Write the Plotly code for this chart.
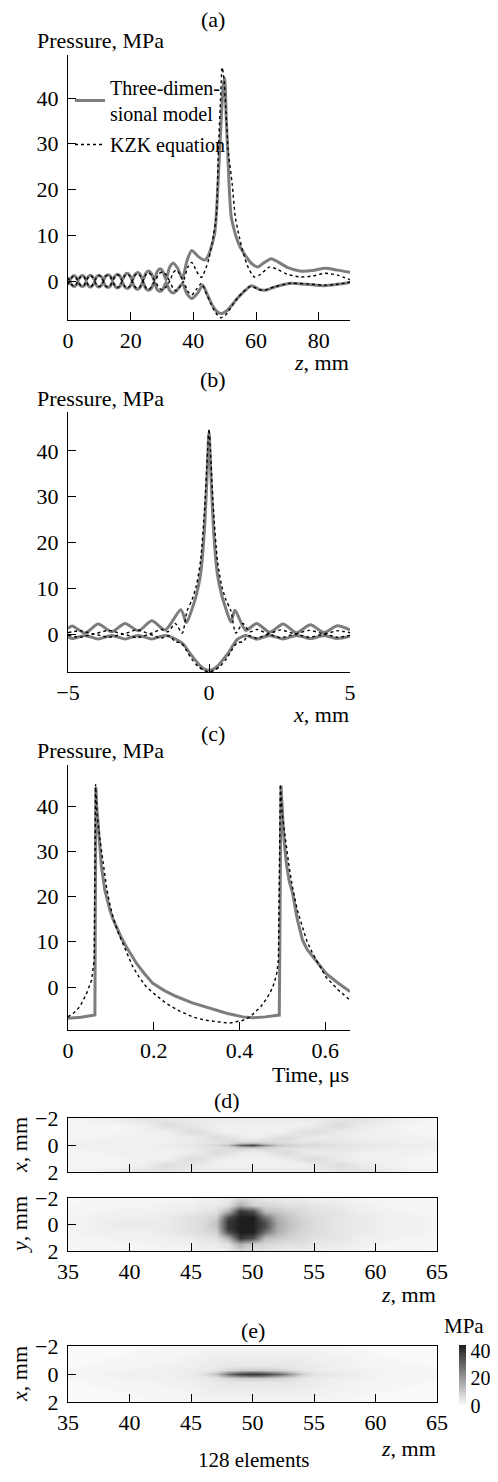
import plotly.graph_objects as go

# page body adds an 8px margin, so the figure is drawn 8px smaller and positions are shifted
PAD = 8
W, H = 498 - 2 * PAD, 1482 - 2 * PAD
FONT = "Liberation Serif"
GRAY = "#7d7d7d"

# ---- (a) axial distribution: (z mm, pressure MPa)
a_3d_pos = [(0, 0.8), (0.6, 0.2), (1.25, 0.9), (1.9, 1.2), (2.55, 0.9), (3.2, 0.2), (3.85, 0.9), (4.5, 1.2),
            (5.15, 1.0), (5.8, 0.2), (6.5, 1.0), (7.15, 1.3), (7.8, 1.0), (8.5, 0.2), (9.2, 1.0), (9.9, 1.3),
            (10.6, 1.0), (11.3, 0.2), (12.0, 1.1), (12.75, 1.4), (13.5, 1.1), (14.2, 0.2), (15.0, 1.1),
            (15.75, 1.5), (16.5, 1.2), (17.3, 0.2), (18.1, 1.3), (18.9, 1.7), (19.7, 1.3), (20.5, 0.2),
            (21.3, 1.4), (22.2, 1.9), (23.0, 1.5), (23.9, 0.2), (24.8, 1.7), (25.7, 2.2), (26.6, 1.7),
            (27.5, 0.2), (28.4, 2.0), (29.4, 2.7), (30.3, 2.1), (31.3, 0.3), (32.4, 3.0), (33.6, 3.9),
            (35.0, 2.8), (36.5, 0.6), (38.0, 4.5), (39.5, 6.7), (41.5, 5.4), (43.6, 4.6), (44.5, 5.2),
            (45.4, 6.7), (46.8, 10.4), (47.6, 17.6), (48.4, 28.5), (49.1, 38), (49.6, 43), (50.0, 44.4),
            (50.5, 35.7), (51.0, 28), (51.4, 21.2), (52.1, 14), (53.0, 11.3), (53.7, 9.6), (55.0, 7.4),
            (56.9, 5.3), (58.5, 3.9), (60.6, 3.1), (62.5, 4.0), (64.9, 4.9), (67, 4.2), (70, 3.0), (74, 2.2),
            (78, 2.3), (82, 2.8), (86, 2.4), (90, 1.9)]
a_3d_neg = [(0, -0.8), (0.6, -0.2), (1.25, -0.9), (1.9, -1.2), (2.55, -0.9), (3.2, -0.2), (3.85, -0.9),
            (4.5, -1.2), (5.15, -1.0), (5.8, -0.2), (6.5, -1.0), (7.15, -1.3), (7.8, -1.0), (8.5, -0.2),
            (9.2, -1.0), (9.9, -1.3), (10.6, -1.0), (11.3, -0.2), (12.0, -1.1), (12.75, -1.4), (13.5, -1.1),
            (14.2, -0.2), (15.0, -1.1), (15.75, -1.5), (16.5, -1.2), (17.3, -0.2), (18.1, -1.3), (18.9, -1.6),
            (19.7, -1.3), (20.5, -0.2), (21.3, -1.4), (22.2, -1.8), (23.0, -1.4), (23.9, -0.2), (24.8, -1.6),
            (25.7, -2.0), (26.6, -1.6), (27.5, -0.2), (28.4, -1.8), (29.4, -2.3), (30.3, -1.8), (31.3, -0.3),
            (32.4, -2.0), (33.6, -2.6), (35.0, -1.8), (36.5, -0.6), (38.0, -2.8), (39.5, -3.8), (41.5, -2.5),
            (43.0, -0.9), (44.5, -3.0), (46.0, -5.2), (47.5, -6.6), (48.9, -7.1), (50.5, -6.6), (52.0, -5.5),
            (54.0, -3.8), (56.0, -2.4), (58.6, -1.0), (61.0, -1.8), (63.0, -2.0), (66.0, -1.3), (70.7, -0.5),
            (76, -0.7), (82, -1.0), (86, -0.7), (90, -0.3)]
a_kzk_pos = [(0, 0.7), (0.6, 0.1), (1.25, 0.8), (1.9, 1.1), (2.55, 0.8), (3.2, 0.1), (3.85, 0.8), (4.5, 1.1),
             (5.15, 0.9), (5.8, 0.1), (6.5, 0.9), (7.15, 1.2), (7.8, 0.9), (8.5, 0.1), (9.2, 0.9), (9.9, 1.2),
             (10.6, 0.9), (11.3, 0.1), (12.0, 1.0), (12.75, 1.3), (13.5, 1.0), (14.2, 0.1), (15.0, 1.0),
             (15.75, 1.4), (16.5, 1.1), (17.3, 0.1), (18.1, 1.1), (18.9, 1.5), (19.7, 1.1), (20.5, 0.1),
             (21.3, 1.2), (22.2, 1.6), (23.0, 1.2), (23.9, 0.1), (24.8, 1.4), (25.7, 1.8), (26.6, 1.3),
             (27.8, 0.1), (29.0, 1.6), (30.2, 2.0), (31.3, 1.4), (32.5, 0.1), (33.5, 1.8), (34.6, 2.4),
             (35.6, 1.6), (36.8, 0.1), (38.2, 3.0), (39.5, 4.1), (41.0, 2.2), (42.6, 0.8), (44.0, 2.8),
             (45.0, 5.0), (46.0, 8.4), (47.3, 14), (48.0, 28.5), (48.7, 40), (49.2, 46.7), (49.8, 44),
             (50.4, 37), (51.2, 28), (52.4, 21.2), (53.4, 14), (54.7, 9.6), (56.0, 6.0), (57.5, 3.0),
             (59.5, 0.9), (61.5, 1.5), (64.4, 3.1), (67, 2.5), (70, 1.5), (74, 0.9), (78, 1.1), (82, 1.7),
             (86, 1.3), (90, 0.3)]
a_kzk_neg = [(0, -0.7), (0.6, -0.1), (1.25, -0.8), (1.9, -1.1), (2.55, -0.8), (3.2, -0.1), (3.85, -0.8),
             (4.5, -1.1), (5.15, -0.9), (5.8, -0.1), (6.5, -0.9), (7.15, -1.2), (7.8, -0.9), (8.5, -0.1),
             (9.2, -0.9), (9.9, -1.2), (10.6, -0.9), (11.3, -0.1), (12.0, -1.0), (12.75, -1.3), (13.5, -1.0),
             (14.2, -0.1), (15.0, -1.0), (15.75, -1.4), (16.5, -1.1), (17.3, -0.1), (18.1, -1.1), (18.9, -1.5),
             (19.7, -1.1), (20.5, -0.1), (21.3, -1.2), (22.2, -1.6), (23.0, -1.2), (23.9, -0.1), (24.8, -1.4),
             (25.7, -1.8), (26.6, -1.3), (27.8, -0.1), (29.0, -1.5), (30.2, -1.9), (31.3, -1.3), (32.5, -0.1),
             (33.5, -1.6), (34.6, -2.1), (35.6, -1.4), (36.8, -0.1), (38.2, -2.2), (39.5, -3.0), (41.0, -1.8),
             (42.6, -0.5), (44.0, -2.5), (45.5, -4.8), (47.0, -6.8), (48.7, -8.0), (50.3, -7.4), (52.0, -5.8),
             (54.0, -3.8), (56.0, -2.3), (58.0, -1.2), (59.5, -1.4), (61.0, -1.9), (63.0, -1.9), (66.0, -1.2),
             (70.7, -0.5), (76, -0.6), (82, -0.9), (86, -0.7), (90, -0.2)]

# ---- (b) transverse distribution at focus: (x mm, pressure MPa)
b_3d_pos = [(-5.0, 1.2), (-4.85, 1.75), (-4.4, 0.2), (-3.93, 2.2), (-3.45, 0.5), (-2.98, 2.3), (-2.5, 0.7),
            (-2.03, 2.9), (-1.55, 0.9), (-1.0, 5.3), (-0.8, 2.5), (-0.6, 5.5), (-0.45, 8.5), (-0.3, 13),
            (-0.17, 22), (-0.08, 33), (0, 43.9), (0.08, 33), (0.17, 22), (0.3, 13), (0.45, 8.5), (0.6, 5.5),
            (0.78, 2.6), (0.92, 5.2), (1.3, 0.8), (1.69, 2.3), (2.15, 0.4), (2.63, 2.2), (3.1, 0.3),
            (3.6, 2.0), (4.08, 0.3), (4.55, 1.8), (5.0, 0.9)]
b_3d_neg = [(-5.0, -0.6), (-4.85, -1.0), (-4.4, -0.3), (-3.93, -1.1), (-3.45, -0.3), (-2.98, -1.1),
            (-2.5, -0.3), (-2.03, -1.1), (-1.55, -0.3), (-1.15, -1.2), (-0.9, -2.3), (-0.7, -4.0),
            (-0.5, -5.6), (-0.3, -7.0), (-0.12, -7.8), (0, -7.9), (0.12, -7.8), (0.3, -7.0), (0.5, -5.6),
            (0.7, -4.0), (0.85, -2.5), (1.0, -1.2), (1.3, -0.3), (1.69, -1.1), (2.15, -0.3), (2.63, -1.1),
            (3.1, -0.3), (3.6, -1.0), (4.08, -0.3), (4.55, -1.0), (5.0, -0.5)]
b_kzk_pos = [(-5.0, 0.3), (-4.55, 0.7), (-4.1, 0.05), (-3.55, 0.8), (-3.05, 0.05), (-2.55, 0.9),
             (-2.1, 0.1), (-1.7, 1.0), (-1.45, 0.5), (-1.2, 2.3), (-0.95, 0.2), (-0.78, 5.0), (-0.6, 7.5),
             (-0.45, 10.5), (-0.3, 16), (-0.15, 28), (-0.05, 40), (0, 44.8), (0.05, 40), (0.15, 28),
             (0.3, 16), (0.45, 10.5), (0.6, 7.5), (0.78, 5.0), (0.95, 0.2), (1.2, 2.3), (1.45, 0.5),
             (1.7, 1.0), (2.1, 0.1), (2.55, 0.9), (3.05, 0.05), (3.55, 0.8), (4.1, 0.05), (4.55, 0.7),
             (5.0, 0.3)]
b_kzk_neg = [(-5.0, -0.3), (-4.55, -0.7), (-4.1, -0.05), (-3.55, -0.7), (-3.05, -0.05), (-2.55, -0.8),
             (-2.1, -0.1), (-1.7, -0.9), (-1.4, -0.4), (-1.2, -1.7), (-1.0, -1.9), (-0.8, -3.6),
             (-0.6, -5.6), (-0.4, -7.0), (-0.2, -7.9), (0, -8.3), (0.2, -7.9), (0.4, -7.0), (0.6, -5.6),
             (0.8, -3.6), (1.0, -1.9), (1.2, -1.7), (1.4, -0.4), (1.7, -0.9), (2.1, -0.1), (2.55, -0.8),
             (3.05, -0.05), (3.55, -0.7), (4.1, -0.05), (4.55, -0.7), (5.0, -0.3)]

# ---- (c) waveform at focus: (time us, pressure MPa)
c_3d = [(0, -6.9), (0.03, -6.7), (0.0628, -6.2), (0.065, 44.2), (0.067, 40), (0.0705, 35.4), (0.074, 30.5),
        (0.078, 26.6), (0.086, 21.4), (0.0977, 17.0), (0.105, 15.0), (0.113, 13.3), (0.124, 11.0),
        (0.136, 8.9), (0.148, 7.0), (0.16, 5.2), (0.178, 3.0), (0.198, 0.8), (0.225, -0.8), (0.253, -2.1),
        (0.29, -3.5), (0.33, -4.7), (0.37, -5.8), (0.408, -6.6), (0.431, -6.8), (0.46, -6.6), (0.493, -6.2),
        (0.497, 44.5), (0.499, 40), (0.5025, 35), (0.506, 30.5), (0.51, 27), (0.516, 23.5), (0.524, 20.7),
        (0.535, 15), (0.547, 10.4), (0.558, 8.3), (0.571, 6.7), (0.586, 4.7), (0.602, 3.0), (0.63, 0.9),
        (0.658, -1.0)]
c_kzk = [(0, -6.6), (0.014, -5.7), (0.028, -4.3), (0.0434, -1.4), (0.055, 1.5), (0.0612, 6.0), (0.0643, 44.8),
         (0.068, 38), (0.074, 33), (0.082, 27), (0.09, 22), (0.097, 18.5), (0.105, 15.5), (0.116, 12.3),
         (0.128, 9.6), (0.14, 6.9), (0.151, 4.5), (0.166, 2.2), (0.182, 0.1), (0.205, -1.8), (0.229, -3.6),
         (0.26, -5.3), (0.291, -6.6), (0.318, -7.3), (0.345, -7.7), (0.376, -8.0), (0.407, -7.4),
         (0.425, -6.6), (0.438, -5.4), (0.45, -4.3), (0.461, -2.9), (0.472, -1.2), (0.481, 0.8),
         (0.487, 3.0), (0.491, 6.0), (0.4955, 44.8), (0.5, 38), (0.5085, 31.7), (0.516, 26.5), (0.524, 22),
         (0.535, 17), (0.547, 13.3), (0.558, 10), (0.571, 7.4), (0.586, 4.8), (0.602, 2.2), (0.63, -0.6),
         (0.658, -2.9)]

# ---- (d), (e) peak pressure maps, MPa; rows are |x| (or |y|) offsets, mirrored about the axis
map_z = [35, 37, 39, 41, 43, 45, 46, 47, 48, 49, 50, 51, 52, 53, 54, 55, 57, 59, 61, 63, 65]
map_off = [0, 0.15, 0.3, 0.6, 1.0, 1.5, 2.0]
d_xz = [
    [3, 3, 3, 3, 4, 5, 6, 8, 12, 30, 38, 22, 12, 9, 8, 7, 6, 5, 4, 4, 3],
    [3, 3, 3, 3, 3, 4, 5, 6, 7, 12, 14, 10, 8, 7, 6, 6, 5, 4, 4, 3, 3],
    [2, 3, 3, 3, 3, 4, 5, 6, 7, 7, 6, 7, 7, 6, 5, 5, 5, 4, 3, 3, 3],
    [2, 2, 3, 3, 3, 4, 5, 7, 6, 4, 3, 4, 6, 7, 5, 4, 4, 3, 3, 3, 2],
    [2, 2, 2, 3, 3, 7, 6, 4, 3, 3, 3, 3, 3, 4, 6, 7, 4, 3, 3, 2, 2],
    [2, 2, 2, 3, 7, 5, 4, 3, 3, 3, 3, 3, 3, 3, 3, 4, 7, 4, 3, 2, 2],
    [2, 3, 4, 6, 5, 4, 4, 4, 4, 4, 4, 4, 4, 4, 4, 4, 5, 6, 4, 3, 2],
]
d_yz = [
    [2, 3, 4, 4, 4, 6, 7, 12, 40, 45, 45, 35, 18, 12, 9, 7, 5, 4, 3, 3, 2],
    [2, 3, 4, 4, 4, 6, 7, 12, 40, 45, 45, 35, 18, 12, 9, 7, 5, 4, 3, 3, 2],
    [2, 3, 4, 4, 4, 6, 7, 11, 40, 45, 45, 34, 17, 12, 9, 7, 5, 4, 3, 3, 2],
    [2, 3, 3, 3, 4, 6, 7, 9, 35, 45, 45, 28, 16, 11, 8, 7, 5, 4, 3, 3, 2],
    [2, 2, 3, 3, 3, 4, 5, 6, 15, 40, 35, 13, 11, 9, 7, 6, 5, 3, 3, 2, 2],
    [2, 2, 2, 2, 3, 3, 4, 4, 6, 16, 9, 8, 7, 6, 6, 5, 4, 3, 2, 2, 2],
    [1, 2, 2, 2, 2, 2, 3, 3, 4, 8, 6, 5, 4, 4, 4, 3, 3, 2, 2, 2, 1],
]
e_xz = [
    [2, 2, 3, 3, 3, 4, 6, 12, 28, 38, 40, 38, 32, 22, 10, 6, 4, 3, 2, 2, 2],
    [2, 2, 3, 3, 3, 4, 5, 8, 18, 25, 28, 25, 20, 14, 7, 5, 4, 3, 2, 2, 2],
    [2, 2, 2, 3, 3, 4, 4, 5, 8, 10, 10, 10, 9, 7, 5, 4, 3, 3, 2, 2, 2],
    [1, 2, 2, 2, 3, 3, 4, 4, 5, 5, 5, 5, 5, 5, 4, 4, 3, 2, 2, 2, 1],
    [1, 1, 2, 2, 2, 3, 3, 4, 4, 4, 4, 4, 4, 4, 4, 3, 3, 2, 2, 1, 1],
    [1, 1, 1, 2, 2, 2, 3, 3, 3, 3, 3, 3, 3, 3, 3, 3, 2, 2, 1, 1, 1],
    [1, 1, 1, 1, 2, 2, 2, 2, 2, 2, 2, 2, 2, 2, 2, 2, 2, 1, 1, 1, 1],
]


def unzip(pairs):
    return [p[0] for p in pairs], [p[1] for p in pairs]


def mirror(rows):
    return rows[:0:-1] + rows


map_off_full = [-v for v in map_off[:0:-1]] + map_off


# helpers take page pixel positions (as measured on the target picture)
def fx(px):
    return (px - PAD) / W


def fy(py):
    return 1 - (py - PAD) / H


def xd(l, r):
    return [fx(l), fx(r)]


def yd(t, b):
    return [fy(b), fy(t)]


fig = go.Figure()

# line panels (a), (b)
for ax, pos3, neg3, posk, negk in [("", a_3d_pos, a_3d_neg, a_kzk_pos, a_kzk_neg),
                                   ("2", b_3d_pos, b_3d_neg, b_kzk_pos, b_kzk_neg)]:
    for i, pairs in enumerate([pos3, neg3]):
        x, y = unzip(pairs)
        fig.add_trace(go.Scatter(x=x, y=y, mode="lines", xaxis="x" + ax, yaxis="y" + ax,
                                 line=dict(color=GRAY, width=3, shape="spline", smoothing=0.7),
                                 name="Three-dimen-<br>sional model", legendgroup="3d",
                                 showlegend=(ax == "" and i == 0)))
    for i, pairs in enumerate([posk, negk]):
        x, y = unzip(pairs)
        fig.add_trace(go.Scatter(x=x, y=y, mode="lines", xaxis="x" + ax, yaxis="y" + ax,
                                 line=dict(color="black", width=1.4, dash="dot", shape="spline", smoothing=0.7),
                                 name="KZK equation", legendgroup="kzk",
                                 showlegend=(ax == "" and i == 0)))

# waveform (c)
x, y = unzip(c_3d)
fig.add_trace(go.Scatter(x=x, y=y, mode="lines", xaxis="x3", yaxis="y3",
                         line=dict(color=GRAY, width=3), showlegend=False))
x, y = unzip(c_kzk)
fig.add_trace(go.Scatter(x=x, y=y, mode="lines", xaxis="x3", yaxis="y3",
                         line=dict(color="black", width=1.4, dash="dot"), showlegend=False))

# pressure maps (d), (e)
gscale = [[0, "#ffffff"], [1, "#1e1e1e"]]
for ax, data, bar in [("4", d_xz, False), ("5", d_yz, False), ("6", e_xz, True)]:
    fig.add_trace(go.Heatmap(
        x=map_z, y=map_off_full, z=mirror(data), xaxis="x" + ax, yaxis="y" + ax,
        colorscale=gscale, zmin=0, zmax=45, zsmooth="best", showscale=bar,
        colorbar=dict(x=fx(459), xanchor="left", xpad=0, y=fy(1375), yanchor="middle", ypad=0,
                      thickness=7, lenmode="pixels", len=61, outlinewidth=0,
                      tickvals=[0, 20, 40], ticks="", tickfont=dict(size=20, family=FONT, color="black"))
    ))

tick_font = dict(size=22, family=FONT, color="black")
base = dict(showline=True, linecolor="black", linewidth=1.3, ticks="inside", ticklen=8, tickwidth=1.2,
            tickcolor="black", showgrid=False, zeroline=False, tickfont=tick_font, automargin=False)
xbase = dict(base, ticklabelstandoff=0)
ybase = dict(base, ticklabelstandoff=4)

layout = dict(
    width=W, height=H, margin=dict(l=0, r=0, t=0, b=0, autoexpand=False),
    paper_bgcolor="white", plot_bgcolor="white",
    font=dict(family=FONT, size=22, color="black"),
    showlegend=True,
    legend=dict(x=fx(70), y=fy(68), xanchor="left", yanchor="top", bgcolor="rgba(0,0,0,0)",
                font=dict(size=20, family=FONT), itemwidth=30, tracegroupgap=2),
    xaxis=dict(xbase, domain=xd(68, 350), range=[0, 90], tickvals=[0, 20, 40, 60, 80], anchor="y"),
    yaxis=dict(ybase, domain=yd(55, 320), range=[-8.5, 49.4], tickvals=[0, 10, 20, 30, 40], anchor="x"),
    xaxis2=dict(xbase, domain=xd(68, 350), range=[-5, 5], tickvals=[-5, 0, 5], anchor="y2"),
    yaxis2=dict(ybase, domain=yd(412, 672), range=[-8.3, 48.5], tickvals=[0, 10, 20, 30, 40], anchor="x2"),
    xaxis3=dict(xbase, domain=xd(68, 350), range=[0, 0.658], tickvals=[0, 0.2, 0.4, 0.6], anchor="y3"),
    yaxis3=dict(ybase, domain=yd(765, 1030), range=[-9.5, 49.06], tickvals=[0, 10, 20, 30, 40], anchor="x3"),
)
for ax, top, bot, labels in [("4", 1118, 1172, False), ("5", 1198, 1251, True), ("6", 1346, 1402, True)]:
    layout["xaxis" + ax] = dict(xbase, domain=xd(68, 437), range=[35, 65], mirror=True,
                                tickvals=[35, 40, 45, 50, 55, 60, 65], showticklabels=labels,
                                anchor="y" + ax)
    layout["yaxis" + ax] = dict(ybase, domain=yd(top, bot), range=[2, -2], mirror=True,
                                tickvals=[-2, 0, 2], anchor="x" + ax)
fig.update_layout(**layout)


def note(text, px, py, anchor="center", size=22, angle=0, vanchor="middle"):
    fig.add_annotation(text=text, x=fx(px), y=fy(py), xref="paper", yref="paper",
                       xanchor=anchor, yanchor=vanchor, showarrow=False, textangle=angle,
                       font=dict(size=size, family=FONT, color="black"))


note("(a)", 213, 20)
note("Pressure, MPa", 35, 40, "left")
note("<i>z</i>, mm", 351, 362, "right")
note("(b)", 213, 380)
note("Pressure, MPa", 35, 399, "left")
note("<i>x</i>, mm", 351, 714, "right")
note("(c)", 213, 733)
note("Pressure, MPa", 35, 750, "left")
note("Time, μs", 351, 1074, "right")
note("(d)", 227, 1100)
note("<i>x</i>, mm", 19, 1145, angle=-90)
note("<i>y</i>, mm", 19, 1225, angle=-90)
note("<i>z</i>, mm", 438, 1294, "right")
note("(e)", 253, 1330)
note("MPa", 464, 1326, size=21)
note("<i>x</i>, mm", 19, 1374, angle=-90)
note("<i>z</i>, mm", 438, 1448, "right")
note("128 elements", 253, 1474, size=21, vanchor="bottom")

fig.write_html("out.html")
